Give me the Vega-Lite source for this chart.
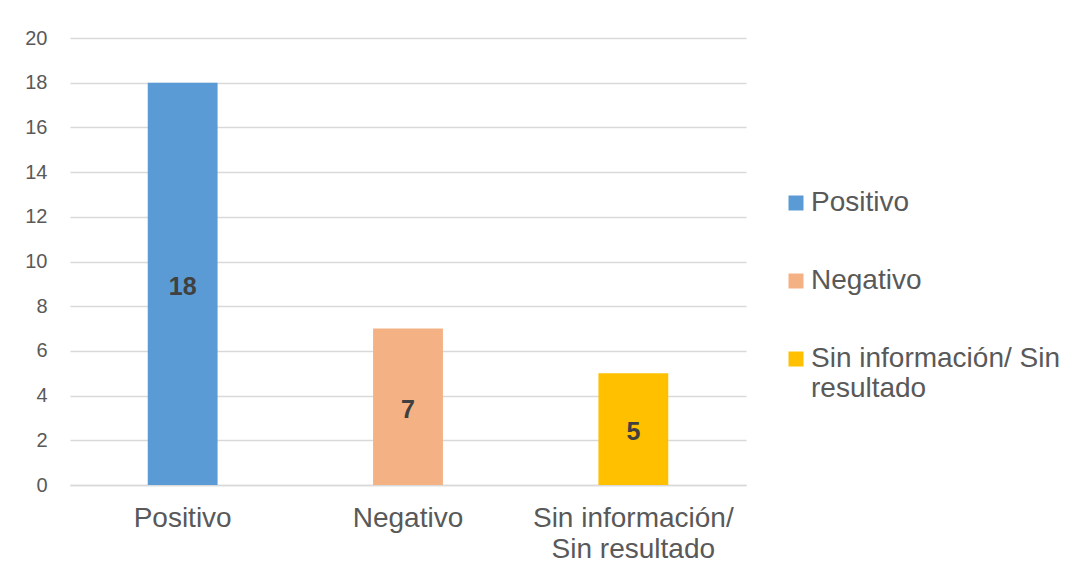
{
  "$schema": "https://vega.github.io/schema/vega-lite/v6.json",
  "width": 676,
  "height": 447,
  "autosize": {"type": "none"},
  "padding": {"left": 70, "top": 38, "right": 327, "bottom": 91},
  "background": "white",
  "config": {
    "view": {"stroke": null},
    "font": "Liberation Sans"
  },
  "data": {
    "values": [
      {"categoria": "Positivo", "valor": 18},
      {"categoria": "Negativo", "valor": 7},
      {"categoria": "Sin información/ Sin resultado", "valor": 5}
    ]
  },
  "encoding": {
    "x": {
      "field": "categoria",
      "type": "nominal",
      "sort": null,
      "scale": {"paddingInner": 0.69, "paddingOuter": 0.345},
      "axis": {
        "title": null,
        "labelAngle": 0,
        "labelFontSize": 28,
        "labelColor": "#595959",
        "labelPadding": 19,
        "labelLineHeight": 31,
        "labelLimit": 400,
        "ticks": false,
        "domainColor": "#d9d9d9",
        "domainWidth": 1.5,
        "labelExpr": "datum.label == 'Sin información/ Sin resultado' ? ['Sin información/', 'Sin resultado'] : datum.label"
      }
    }
  },
  "layer": [
    {
      "mark": {"type": "bar"},
      "encoding": {
        "y": {
          "field": "valor",
          "type": "quantitative",
          "scale": {"domain": [0, 20], "nice": false},
          "axis": {
            "title": null,
            "values": [0, 2, 4, 6, 8, 10, 12, 14, 16, 18, 20],
            "labelFontSize": 20,
            "labelColor": "#595959",
            "labelPadding": 23,
            "ticks": false,
            "domain": false,
            "gridColor": "#d9d9d9",
            "gridWidth": 1.3
          }
        },
        "color": {
          "field": "categoria",
          "type": "nominal",
          "sort": null,
          "scale": {
            "domain": ["Positivo", "Negativo", "Sin información/ Sin resultado"],
            "range": ["#5B9BD5", "#F4B183", "#FFC000"]
          },
          "legend": {
            "title": null,
            "orient": "none",
            "legendX": 712,
            "legendY": 151,
            "symbolType": "square",
            "symbolSize": 225,
            "symbolStrokeWidth": 0,
            "labelFontSize": 28,
            "labelColor": "#595959",
            "labelOffset": 1,
            "labelLineHeight": 30,
            "rowPadding": 50,
            "labelLimit": 400,
            "labelExpr": "datum.label == 'Sin información/ Sin resultado' ? ['Sin información/ Sin', 'resultado'] : datum.label"
          }
        }
      }
    },
    {
      "transform": [{"calculate": "datum.valor / 2", "as": "medio"}],
      "mark": {"type": "text", "fontSize": 25, "fontWeight": "bold", "color": "#404040", "dy": 3},
      "encoding": {
        "y": {"field": "medio", "type": "quantitative"},
        "text": {"field": "valor", "type": "quantitative"}
      }
    }
  ]
}
